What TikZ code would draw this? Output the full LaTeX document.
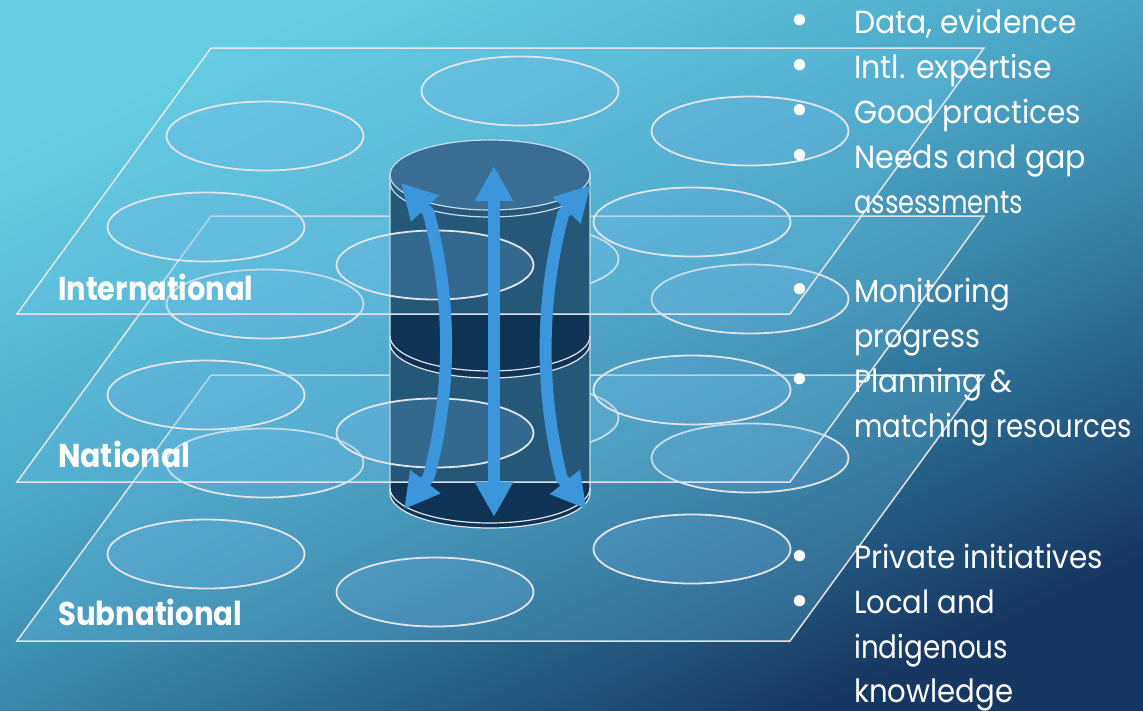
\documentclass[tikz,border=0pt]{standalone}
\usepackage{fontspec}
\usepackage{graphicx}
\setmainfont{Poppins}
\usetikzlibrary{arrows.meta,bending}

\definecolor{planeF}{RGB}{108,196,232}
\definecolor{ellF}{RGB}{116,180,234}
\definecolor{lineW}{RGB}{226,229,232}
\definecolor{cylSide}{RGB}{14,51,84}
\definecolor{cylTop}{RGB}{40,80,120}
\definecolor{arrowB}{RGB}{60,150,220}

\pgfdeclareverticalshading{bgshade}{100bp}{%
  rgb(0bp)=(0.086,0.216,0.384);
  rgb(25bp)=(0.086,0.216,0.384);
  rgb(35bp)=(0.149,0.373,0.529);
  rgb(45bp)=(0.227,0.529,0.667);
  rgb(55bp)=(0.294,0.647,0.776);
  rgb(65bp)=(0.345,0.737,0.839);
  rgb(75bp)=(0.400,0.808,0.886);
  rgb(100bp)=(0.400,0.808,0.886)}

\newcommand\itemfont{\fontsize{32}{40}\selectfont}
\newcommand\dotfont{\fontsize{46}{46}\selectfont}
\newcommand\lvlfont{\fontsize{33}{40}\selectfont\bfseries}
\newcommand\itemtxt[2]{\resizebox{#1pt}{\height}{\itemfont #2}}
\newcommand\lvltxt[2]{\resizebox{#1pt}{\height}{\lvlfont #2}}

\tikzset{
  plane/.style={draw=lineW, line width=1.5pt, fill=planeF, fill opacity=0.25},
  blob/.style={draw=lineW, line width=1.8pt, fill=ellF, fill opacity=0.2},
  cylline/.style={draw=lineW, line width=1.2pt},
  flow/.style={draw=arrowB, line width=12pt, line join=round,
    {Triangle[width=36pt,length=35pt,flex]}-{Triangle[width=36pt,length=35pt,flex]}},
  lvl/.style={anchor=base west, text=white, inner sep=0pt},
  item/.style={anchor=base west, text=white, inner sep=0pt},
  dot/.style={anchor=base, text=white, inner sep=0pt, font=\dotfont},
  layer/.pic={
    \path[plane] (211,0) -- (984,0) -- (790,266) -- (17,266) -- cycle;
    \foreach \ex/\ey in {520/43, 265/88, 750/83, 206/179, 692/174, 435/217}
      \path[blob] (\ex,\ey) ellipse[x radius=98.5, y radius=34.5];
  }
}

\begin{document}
\begin{tikzpicture}[x=1pt,y=-1pt]
\useasboundingbox (0,0) rectangle (1143,710);
\shade[shading=bgshade, shading angle=25] (0,0) rectangle (1143,710);

% subnational layer
\pic at (0,375) {layer};

% lower cylinder
\fill[cylSide] (390,343) -- (390,493) .. controls (390,512.33) and (434.77,528) .. (490,528)
  .. controls (545.23,528) and (590,512.33) .. (590,493) -- (590,343) -- cycle;
\draw[cylline] (390,343) -- (390,493) .. controls (390,512.33) and (434.77,528) .. (490,528)
  .. controls (545.23,528) and (590,512.33) .. (590,493) -- (590,343);
\draw[cylline] (390,488) .. controls (390,507.33) and (434.77,523) .. (490,523)
  .. controls (545.23,523) and (590,507.33) .. (590,488);

% national layer
\pic at (0,216) {layer};

% upper cylinder
\fill[cylSide] (390,175) -- (390,343) .. controls (390,362.33) and (434.77,378) .. (490,378)
  .. controls (545.23,378) and (590,362.33) .. (590,343) -- (590,175) -- cycle;
\fill[cylTop] (490,175) ellipse[x radius=100, y radius=35];
\draw[cylline] (390,175) -- (390,343) .. controls (390,362.33) and (434.77,378) .. (490,378)
  .. controls (545.23,378) and (590,362.33) .. (590,343) -- (590,175);
\draw[cylline] (390,336) .. controls (390,355.33) and (434.77,371) .. (490,371)
  .. controls (545.23,371) and (590,355.33) .. (590,336);
\draw[cylline] (490,175) ellipse[x radius=100, y radius=35];
\draw[cylline] (390,182) .. controls (390,201.33) and (434.77,217) .. (490,217)
  .. controls (545.23,217) and (590,201.33) .. (590,182);

% international layer
\pic at (0,48) {layer};

% arrows
\coordinate (la) at (404,509.3);
\coordinate (lb) at (401,183);
\coordinate (ma) at (494,517);
\coordinate (mb) at (494,166);
\coordinate (ra) at (586.7,509.3);
\coordinate (rb) at (590.7,185);
\draw[flow] (la) -- (428.4,477.7) .. controls (452,390) and (452,300) .. (428.4,212.2) -- (lb);
\draw[flow] (ma) -- (mb);
\draw[flow] (ra) -- (561.7,478.1) .. controls (540,392) and (540,302) .. (563.2,214.1) -- (rb);

% level labels
\node[lvl] (intl) at (58,300) {\lvltxt{195}{International}};
\node[lvl] (natl) at (58,467) {\lvltxt{132}{National}};
\node[lvl] (subn) at (58,625) {\lvltxt{184}{Subnational}};

% bullets
\node[dot] (d1) at (800,35.6) {•};
\node[dot] (d2) at (800,80.6) {•};
\node[dot] (d3) at (800,125.6) {•};
\node[dot] (d4) at (800,170.6) {•};
\node[dot] (d5) at (800,304.6) {•};
\node[dot] (d6) at (800,394.6) {•};
\node[dot] (d7) at (800,571.6) {•};
\node[dot] (d8) at (800,616.6) {•};

\node[item] (t1) at (854,33) {\itemtxt{223}{Data, evidence}};
\node[item] (t2) at (854,78) {\itemtxt{198}{Intl. expertise}};
\node[item] (t3) at (854,123) {\itemtxt{227}{Good practices}};
\node[item] (t4) at (854,168) {\itemtxt{232}{Needs and gap}};
\node[item] (t4b) at (854,213) {\itemtxt{169}{assessments}};
\node[item] (t5) at (854,302) {\itemtxt{156}{Monitoring}};
\node[item] (t5b) at (854,347) {\itemtxt{126}{progress}};
\node[item] (t6) at (854,392) {\itemtxt{158}{Planning \&}};
\node[item] (t6b) at (854,437) {\itemtxt{278}{matching resources}};
\node[item] (t7) at (854,568) {\itemtxt{249}{Private initiatives}};
\node[item] (t8) at (854,613) {\itemtxt{141}{Local and}};
\node[item] (t8b) at (854,658) {\itemtxt{154}{indigenous}};
\node[item] (t8c) at (854,702) {\itemtxt{159}{knowledge}};
\end{tikzpicture}
\end{document}
